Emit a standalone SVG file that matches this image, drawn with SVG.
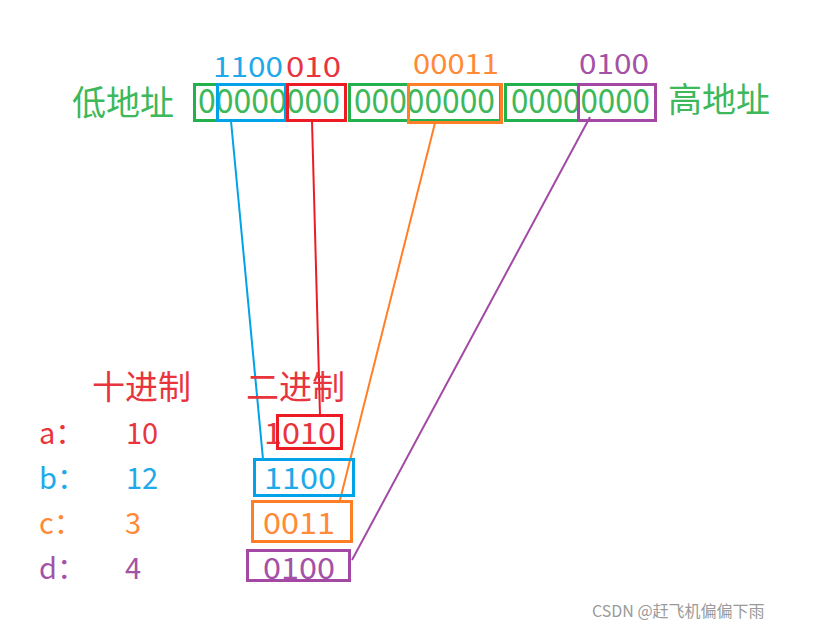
<svg xmlns="http://www.w3.org/2000/svg" width="818" height="629" viewBox="0 0 818 629">
<style>
text{font-family:"Noto Sans CJK SC","Liberation Sans",sans-serif;}
.t{font-size:33px;}
.h{font-size:34px;}
.l{font-size:28px;}
.s{font-size:29px;}
.g{fill:#3db85a;}
.r{fill:#e8353d;}
.b{fill:#1da9ea;}
.o{fill:#ff8a37;}
.p{fill:#a452a6;}
.box{fill:none;stroke-width:3;}
.bg{stroke:#22b14c;}
.br{stroke:#ed1c24;}
.bb{stroke:#00a2e8;}
.bo{stroke:#ff7f27;}
.bp{stroke:#a349a4;}
.ln{fill:none;stroke-width:2;}
</style>
<rect width="818" height="629" fill="#fff"/>
<g id="top">
<text x="72" y="115" class="h g">低地址</text>
<text x="668" y="112" class="h g">高地址</text>
<text x="213" y="77" class="l b" textLength="70" lengthAdjust="spacingAndGlyphs">1100</text>
<text x="286" y="77" class="l r" textLength="55" lengthAdjust="spacingAndGlyphs">010</text>
<text x="413" y="74" class="l o" textLength="86" lengthAdjust="spacingAndGlyphs">00011</text>
<text x="579" y="74" class="l p" textLength="70" lengthAdjust="spacingAndGlyphs">0100</text>
<text x="198" y="113" class="t g" textLength="142" lengthAdjust="spacingAndGlyphs">00000000</text>
<text x="354" y="113" class="t g" textLength="141" lengthAdjust="spacingAndGlyphs">00000000</text>
<text x="511" y="113" class="t g" textLength="139" lengthAdjust="spacingAndGlyphs">00000000</text>
<rect x="194.5" y="84.5" width="92" height="36" class="box bg"/>
<rect x="349.5" y="84.5" width="151" height="36" class="box bg"/>
<rect x="505.5" y="84.5" width="150" height="36" class="box bg"/>
<rect x="217.5" y="84.5" width="68" height="36" class="box bb"/>
<rect x="287.5" y="84.5" width="58" height="36" class="box br"/>
<rect x="408.5" y="84.5" width="93" height="38" class="box bo"/>
<rect x="578.5" y="84.5" width="77" height="36" class="box bp"/>
</g>
<g id="connectors">
<line x1="231" y1="121" x2="263" y2="459" class="ln bb"/>
<line x1="312" y1="121" x2="320" y2="415" class="ln br"/>
<line x1="435" y1="123" x2="340" y2="500" class="ln bo"/>
<line x1="590" y1="117" x2="352" y2="560" class="ln bp"/>
</g>
<g id="bottom">
<text x="92" y="399" class="t r">十进制</text>
<text x="246" y="399" class="t r">二进制</text>
<text x="39" y="444" class="s r">a：</text>
<text x="39" y="489" class="s b">b：</text>
<text x="39" y="534" class="s o">c：</text>
<text x="39" y="579" class="s p">d：</text>
<text x="126" y="444" class="s r">10</text>
<text x="126" y="489" class="s b">12</text>
<text x="125" y="534" class="s o">3</text>
<text x="125" y="579" class="s p">4</text>
<text x="264" y="444" class="s r" textLength="72" lengthAdjust="spacingAndGlyphs">1010</text>
<text x="264" y="489" class="s b" textLength="72" lengthAdjust="spacingAndGlyphs">1100</text>
<text x="263" y="534" class="s o" textLength="72" lengthAdjust="spacingAndGlyphs">0011</text>
<text x="263" y="579" class="s p" textLength="72" lengthAdjust="spacingAndGlyphs">0100</text>
<rect x="277.5" y="415.5" width="64" height="33" class="box br"/>
<rect x="254.5" y="459.5" width="99" height="36" class="box bb"/>
<rect x="252.5" y="501.5" width="99" height="40" class="box bo"/>
<rect x="247.5" y="550.5" width="102" height="30" class="box bp"/>
</g>
<text x="592" y="617" font-size="16" fill="#9a9a9a">CSDN @赶飞机偏偏下雨</text>
</svg>
